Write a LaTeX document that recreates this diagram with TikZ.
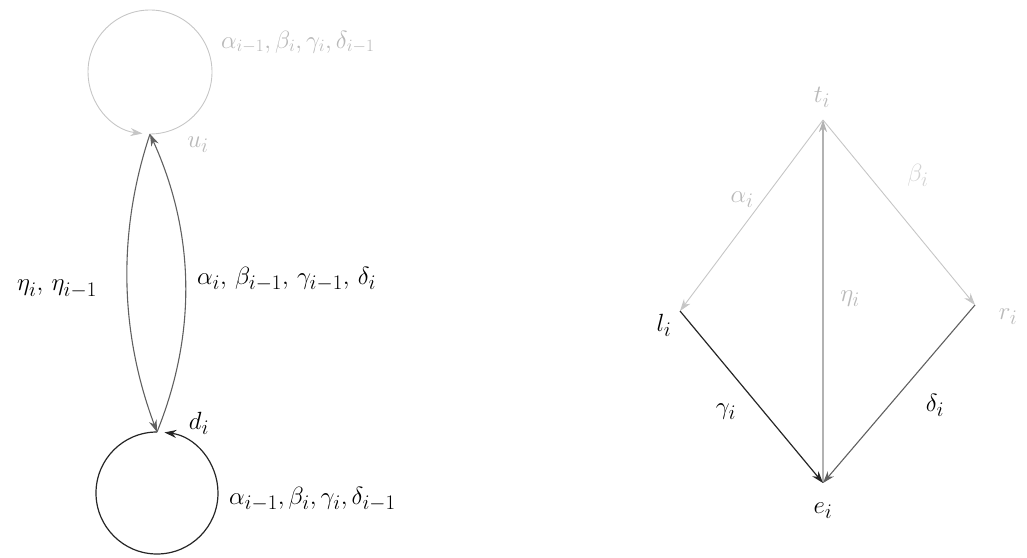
\documentclass[tikz,border=0pt]{standalone}
\usetikzlibrary{arrows.meta}
\begin{document}
\begin{tikzpicture}[x=1pt,y=1pt,
  light/.style={draw=gray!45,line width=0.9pt},
  mid/.style={draw=gray!75!black,line width=1.1pt},
  dark/.style={draw=black!85,line width=1.2pt},
  tip/.style={-{Stealth[length=12pt,width=8pt]}},
  lbl/.style={inner sep=1pt,font=\fontsize{30}{34}\selectfont},
  lbllight/.style={lbl,text=gray!55},
  pt/.style={inner sep=0pt,minimum size=0pt}]
\useasboundingbox (0,0) rectangle (1027,557);
% left graph
\node[pt] (u) at (150,423) {};
\node[pt] (d) at (157,125) {};
\draw[light,tip] (u.center) arc[start angle=-90,end angle=263,radius=62];
\draw[dark,tip] (d.center) arc[start angle=90,end angle=443,radius=61];
\draw[mid,tip] (u.center) .. controls (117,324) and (120,224) .. (d.center);
\draw[mid,tip] (d.center) .. controls (197,224) and (195,324) .. (u.center);
\node[lbllight,anchor=west,font=\fontsize{27}{30}\selectfont] (lu) at (220,515) {$\alpha_{i-1},\beta_i,\gamma_i,\delta_{i-1}$};
\node[lbllight] (ul) at (198,412) {$u_i$};
\node[lbl] (dl) at (199,134) {$d_i$};
\node[lbl,anchor=west] (ld) at (228,58) {$\alpha_{i-1},\beta_i,\gamma_i,\delta_{i-1}$};
\node[lbl] (eta) at (57,268) {$\eta_i,\,\eta_{i-1}$};
\node[lbl,anchor=west] (ab) at (196,278) {$\alpha_i,\,\beta_{i-1},\,\gamma_{i-1},\,\delta_i$};
% right graph
\node[pt] (t) at (823,437) {};
\node[pt] (l) at (680,246) {};
\node[pt] (r) at (975,252) {};
\node[pt] (e) at (823,74) {};
\node[lbllight] (tl) at (822,460) {$t_i$};
\node[lbl] (ll) at (664,232) {$l_i$};
\node[lbllight] (rl) at (1008,240) {$r_i$};
\node[lbl] (el) at (823,46) {$e_i$};
\draw[light,tip] (t.center) -- (l.center);
\draw[light,tip] (t.center) -- (r.center);
\draw[mid,draw=gray!60,tip] (e.center) -- (t.center);
\draw[dark,tip] (l.center) -- (e.center);
\draw[mid,tip] (r.center) -- (e.center);
\node[lbllight] (al) at (742,357) {$\alpha_i$};
\node[lbllight,text=gray!35] (bl) at (918,382) {$\beta_i$};
\node[lbllight] (hl) at (850,258) {$\eta_i$};
\node[lbl] (gl) at (726,145) {$\gamma_i$};
\node[lbl] (dl2) at (935,152) {$\delta_i$};
\end{tikzpicture}
\end{document}
